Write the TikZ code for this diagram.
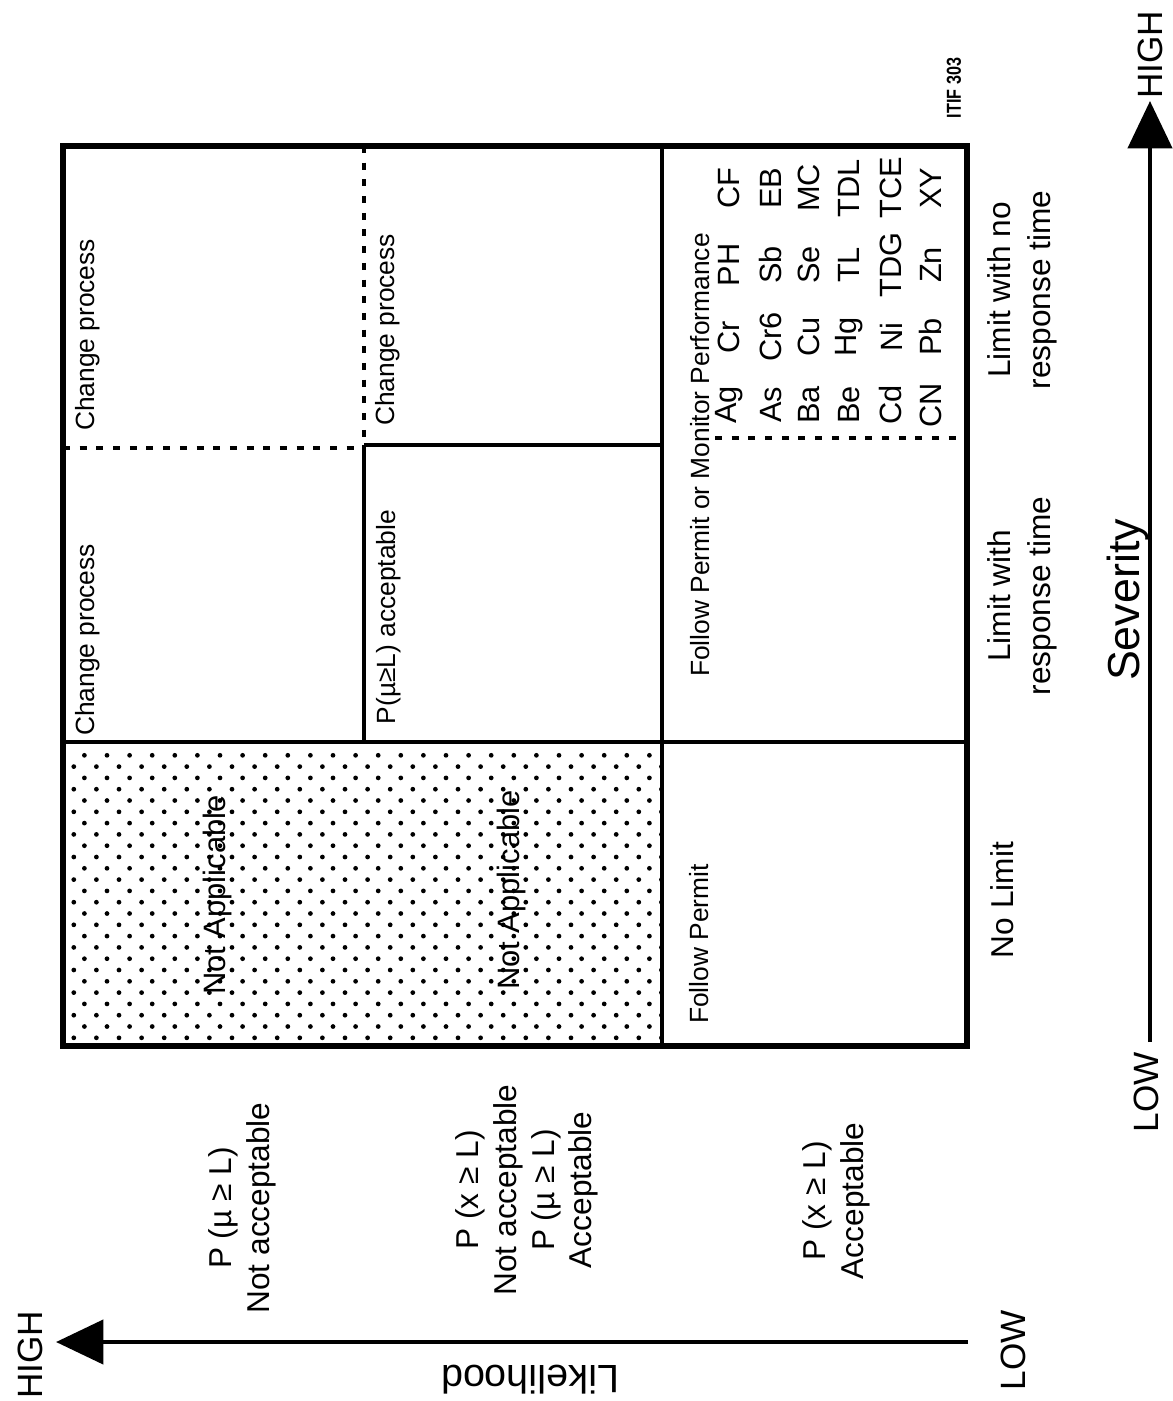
\documentclass[tikz,border=0pt]{standalone}
\usepackage{fontspec}
\setmainfont{Liberation Sans}
\usetikzlibrary{arrows.meta}
\tikzset{
  frame/.style={line width=3.2pt},
  inner/.style={line width=2.6pt},
  dashln/.style={line width=1.8pt, dash pattern=on 4pt off 5.5pt},
  axisarrow/.style={line width=2.8pt, -{Triangle[length=27pt,width=25pt]}},
  celltext/.style={rotate=90, inner sep=0pt, font=\fontsize{15}{18}\selectfont},
  natext/.style={rotate=90, inner sep=0pt, font=\fontsize{17.6}{21}\selectfont},
  leftlab/.style={rotate=90, inner sep=0pt, align=center, font=\fontsize{18}{21.5}\selectfont},
  sevlab/.style={rotate=90, inner sep=0pt, align=center, font=\fontsize{18}{22.8}\selectfont},
  axislab/.style={inner sep=0pt, font=\fontsize{20}{24}\selectfont},
  hand/.style={rotate=90, inner sep=0pt, font=\fontsize{17.5}{20}\selectfont},
}
\begin{document}
\begin{tikzpicture}[x=0.02cm, y=-0.02cm]
\useasboundingbox (0,0) rectangle (1173,1401);

% grid coordinates
\coordinate (A00) at (63,146);
\coordinate (A30) at (967,146);
\coordinate (A03) at (63,1046);
\coordinate (A33) at (967,1046);
\coordinate (A02) at (63,742);
\coordinate (A32) at (967,742);
\coordinate (A20) at (662,146);
\coordinate (A23) at (662,1046);
\coordinate (A11) at (364,445);
\coordinate (A12) at (364,742);
\coordinate (A21) at (662,445);
\coordinate (A10) at (364,146);
\coordinate (D0) at (63,448);
\coordinate (D1) at (364,448);
\coordinate (E0) at (715,438);
\coordinate (E1) at (967,438);

% dotted region
\begin{scope}
\clip (65,745) rectangle (660,1044);
\foreach \i in {0,...,25}{
  \pgfmathsetmacro\yy{755.3+11.3*\i}
  \pgfmathsetmacro\xo{isodd(\i) ? 73.8 : 61.8}
  \foreach \j in {0,...,26}{
    \fill (\xo+22.6*\j, \yy) circle (1.35pt);
  }
}
\end{scope}

% lines
\draw[inner] (A02) -- (A32);
\draw[inner] (A20) -- (A23);
\draw[inner] (A11) -- (A12);
\draw[inner] (A11) -- (A21);
\draw[dashln] (D0) -- (D1);
\draw[dashln] (A10) -- (A11);
\draw[dashln] (E0) -- (E1);
\draw[frame] (A00) rectangle (A33);

% cell texts
\node[celltext] (cp1) at (88,335) {Change process};
\node[celltext] (cp2) at (88,640) {Change process};
\node[celltext] (cp3) at (388,330) {Change process};
\node[celltext] (pacc) at (389,617) {P(\textmu{}≥L) acceptable};
\node[natext] (na1) at (218,895) {Not Applicable};
\node[natext] (na2) at (512,890) {Not Applicable};
\node[celltext] (fp) at (699,944) {Follow Permit};
\node[celltext] (fpm) at (700,455) {Follow Permit or Monitor Performance};

% handwritten list
\foreach \xx/\a/\b/\c/\d in {729/Ag/Cr/PH/CF, 771/As/Cr6/Sb/EB, 809/Ba/Cu/Se/MC, 849/Be/Hg/TL/TDL, 891/Cd/Ni/TDG/TCE, 931/CN/Pb/Zn/XY}{
  \node[hand] (h\a) at (\xx,405) {\a};
  \node[hand] (h\b) at (\xx,337) {\b};
  \node[hand] (h\c) at (\xx,265) {\c};
  \node[hand] (h\d) at (\xx,188) {\d};
}

% ITIF label
\node[rotate=90, inner sep=0pt, font=\fontsize{11.5}{13}\selectfont] (itif) at (954,88) {\scalebox{0.8}[1]{\bfseries ITIF 303}};

% likelihood labels
\node[leftlab] (l1) at (242,1208) {P (\textmu{} ≥ L)\\Not acceptable};
\node[leftlab] (l2) at (527,1190) {P (x ≥ L)\\Not acceptable\\P (\textmu{} ≥ L)\\Acceptable};
\node[leftlab] (l3) at (836,1201) {P (x ≥ L)\\Acceptable};

% severity labels
\node[sevlab] (s1) at (1002,900) {No Limit};
\node[sevlab] (s2) at (1022,596) {Limit with\\response time};
\node[sevlab] (s3) at (1022,290) {Limit with no\\response time};
\node[rotate=90, inner sep=0pt, font=\fontsize{25.5}{30}\selectfont] (sev) at (1128,600) {Severity};

% axes
\coordinate (sevlow) at (1150,1042);
\coordinate (sevhigh) at (1150,101);
\draw[axisarrow] (sevlow) -- (sevhigh);
\node[axislab, rotate=90] (sevLOW) at (1146,1092) {LOW};
\node[axislab, rotate=90] (sevHIGH) at (1150,55) {HIGH};

\coordinate (likelow) at (968,1342);
\coordinate (likehigh) at (56,1342);
\draw[axisarrow] (likelow) -- (likehigh);
\node[axislab, rotate=90] (likeLOW) at (1013,1350) {LOW};
\node[axislab, rotate=90] (likeHIGH) at (30,1355) {HIGH};
\node[axislab, rotate=180, font=\fontsize{22.5}{26}\selectfont] (likelab) at (530,1380) {Likelihood};
\end{tikzpicture}
\end{document}
